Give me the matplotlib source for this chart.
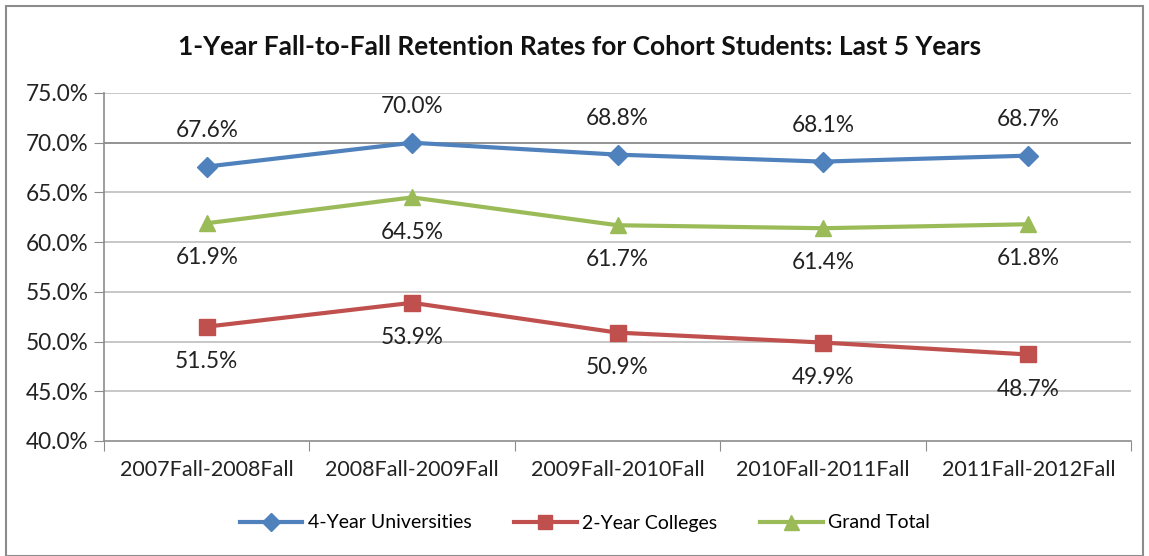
import matplotlib
matplotlib.use("Agg")
import matplotlib.pyplot as plt
from matplotlib.patches import Rectangle

categories = ["2007Fall-2008Fall", "2008Fall-2009Fall", "2009Fall-2010Fall",
              "2010Fall-2011Fall", "2011Fall-2012Fall"]
univ = [67.6, 70.0, 68.8, 68.1, 68.7]
college = [51.5, 53.9, 50.9, 49.9, 48.7]
total = [61.9, 64.5, 61.7, 61.4, 61.8]
yticks = [40, 45, 50, 55, 60, 65, 70, 75]

plt.rcParams['font.family'] = ['Lato', 'DejaVu Sans']

fig = plt.figure(figsize=(11.49, 5.56), dpi=100)
ax = fig.add_axes([104 / 1149, 1 - 441 / 556, 1027 / 1149, 348 / 556])

# outer chart border
fig.patches.append(Rectangle((6 / 1149, 0.0), 1137 / 1149, 550 / 556,
                             transform=fig.transFigure, fill=False,
                             edgecolor="#8c8c8c", linewidth=1.5))

x = list(range(len(categories)))
blue, red, green = "#4F81BD", "#C0504D", "#9BBB59"

for v in yticks[1:]:
    ax.axhline(v, color="#808080" if v == 70 else "#BEBEBE", linewidth=1.2, zorder=0)

ax.plot(x, univ, color=blue, linewidth=3, marker="D", markersize=10,
        label="4-Year Universities", zorder=3)
ax.plot(x, college, color=red, linewidth=3, marker="s", markersize=11,
        label="2-Year Colleges", zorder=3)
ax.plot(x, total, color=green, linewidth=3, marker="^", markersize=12,
        label="Grand Total", zorder=3)

for i in x:
    ax.annotate(f"{univ[i]:.1f}%", (i, univ[i]), xytext=(0, 26), textcoords="offset points",
                ha="center", va="center", fontsize=16.3, color="#222222")
    ax.annotate(f"{college[i]:.1f}%", (i, college[i]), xytext=(0, -25), textcoords="offset points",
                ha="center", va="center", fontsize=16.3, color="#222222")
    ax.annotate(f"{total[i]:.1f}%", (i, total[i]), xytext=(0, -25), textcoords="offset points",
                ha="center", va="center", fontsize=16.3, color="#222222")

ax.set_xlim(-0.5, 4.5)
ax.set_ylim(40, 75)
ax.set_yticks(yticks)
ax.set_yticklabels([f"{v:.1f}%" for v in yticks], fontsize=16.3, color="#222222")
ax.set_xticks([i + 0.5 for i in [-1] + x], minor=False)
ax.set_xticklabels([])
ax.set_xticks(x, minor=True)
ax.set_xticklabels(categories, minor=True, fontsize=15.5, color="#222222")
ax.tick_params(axis="x", which="major", length=7, color="#8c8c8c")
ax.tick_params(axis="x", which="minor", length=0, pad=14)
ax.tick_params(axis="y", length=7, color="#8c8c8c", pad=4)

for s in ["top", "right"]:
    ax.spines[s].set_visible(False)
for s in ["left", "bottom"]:
    ax.spines[s].set_color("#8c8c8c")
    ax.spines[s].set_linewidth(1.2)

fig.text(580 / 1149, 1 - 47 / 556, "1-Year Fall-to-Fall Retention Rates for Cohort Students: Last 5 Years",
         ha="center", va="center", fontsize=19, fontweight="bold", color="#111111")

fig.legend(loc="center", bbox_to_anchor=(585 / 1149, 1 - 523 / 556), ncol=3, frameon=False,
           fontsize=14, handlelength=3.2, columnspacing=2.2, handletextpad=0.3,
           markerscale=0.9)

fig.savefig("out.png", dpi=100)
